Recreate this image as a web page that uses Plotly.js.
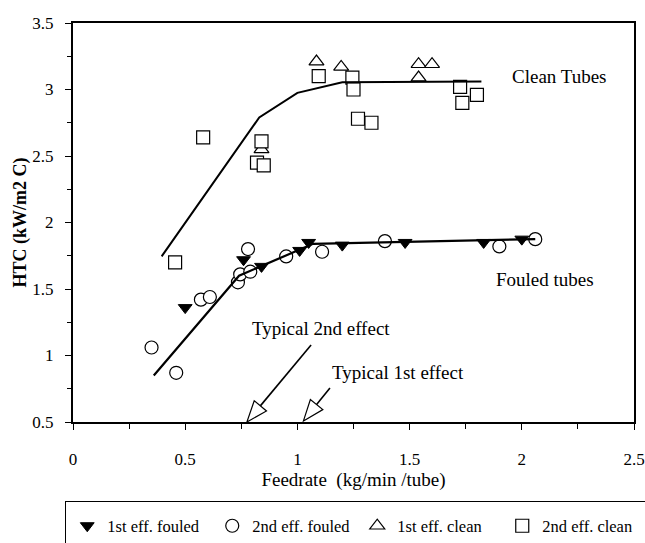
<!DOCTYPE html>
<html><head><meta charset="utf-8">
<script src="https://cdn.plot.ly/plotly-3.0.1.min.js"></script>
<style>html,body{margin:0;padding:0;background:#fff}#chart{width:645px;height:543px}</style>
</head><body><div id="chart"></div>
<script>
// ---- data ----
const fouled1X = [0.50, 0.76, 0.84, 1.01, 1.05, 1.20, 1.48, 1.83, 2.00];
const fouled1Y = [1.36, 1.72, 1.67, 1.79, 1.85, 1.83, 1.85, 1.85, 1.875];

const fouled2X = [0.35, 0.46, 0.57, 0.61, 0.735, 0.745, 0.79, 0.78, 0.95, 1.11, 1.39, 1.90, 2.06];
const fouled2Y = [1.06, 0.87, 1.42, 1.44, 1.55, 1.61, 1.63, 1.80, 1.745, 1.78, 1.86, 1.82, 1.875];

const clean1X = [0.84, 1.085, 1.195, 1.54, 1.60, 1.54];
const clean1Y = [2.55, 3.21, 3.17, 3.19, 3.19, 3.09];

const clean2X = [0.455, 0.58, 0.84, 0.82, 0.85, 1.095, 1.245, 1.25, 1.27, 1.33, 1.725, 1.80, 1.735];
const clean2Y = [1.70, 2.64, 2.61, 2.45, 2.43, 3.10, 3.09, 3.00, 2.78, 2.75, 3.02, 2.96, 2.90];

const cleanFitX = [0.395, 0.83, 1.0, 1.2, 1.82];
const cleanFitY = [1.745, 2.79, 2.975, 3.055, 3.06];

const fouledFitX = [0.36, 0.74, 1.07, 2.06];
const fouledFitY = [0.85, 1.60, 1.84, 1.875];

const seriesNames = ['1st eff. fouled', '2nd eff. fouled', '1st eff. clean', '2nd eff. clean'];

const labelTexts = ['Clean Tubes', 'Fouled tubes', 'Typical 2nd effect', 'Typical 1st effect'];
const labelX = [2.17, 2.105, 1.104, 1.448];
const labelY = [3.096, 1.575, 1.205, 0.87];

// arrows: [tipX, tipY, tailX, tailY]
const arrows = [[0.775, 0.50, 1.061, 1.079], [1.027, 0.508, 1.145, 0.756]];

// ---- layout geometry ----
const W = 645, H = 543;
const M = {l: 73, r: 11, t: 23, b: 121, autoexpand: false};
const xRange = [0, 2.5], yRange = [0.5, 3.5];
const pxX = (W - M.l - M.r) / (xRange[1] - xRange[0]);
const pxY = (H - M.t - M.b) / (yRange[1] - yRange[0]);

const FONT = '"Liberation Serif","Times New Roman",Times,serif';

const traces = [
  {x: fouled1X, y: fouled1Y, name: seriesNames[0], type: 'scatter', mode: 'markers',
   marker: {symbol: 'triangle-down', size: 12, color: '#000', line: {color: '#000', width: 1}}},
  {x: fouled2X, y: fouled2Y, name: seriesNames[1], type: 'scatter', mode: 'markers',
   marker: {symbol: 'circle', size: 13, color: '#fff', line: {color: '#000', width: 1.2}}},
  {x: clean1X, y: clean1Y, name: seriesNames[2], type: 'scatter', mode: 'markers',
   marker: {symbol: 'triangle-up', size: 13, color: '#fff', line: {color: '#000', width: 1.2}}},
  {x: clean2X, y: clean2Y, name: seriesNames[3], type: 'scatter', mode: 'markers',
   marker: {symbol: 'square', size: 13, color: '#fff', line: {color: '#000', width: 1.2}}},
  {x: cleanFitX, y: cleanFitY, type: 'scatter', mode: 'lines', showlegend: false,
   line: {color: '#000', width: 2}, hoverinfo: 'skip'},
  {x: fouledFitX, y: fouledFitY, type: 'scatter', mode: 'lines', showlegend: false,
   line: {color: '#000', width: 2.2}, hoverinfo: 'skip'}
];

// arrow shapes (open triangle head)
const shapes = [];
arrows.forEach(a => {
  const [tx, ty, sx, sy] = a;
  const dx = (sx - tx) * pxX, dy = -(sy - ty) * pxY;
  const L = Math.hypot(dx, dy), ux = dx / L, uy = dy / L;
  const len = 21, half = 8;
  const bx = ux * len, by = uy * len;
  const p1 = [bx - uy * half, by + ux * half], p2 = [bx + uy * half, by - ux * half];
  const toD = p => [tx + p[0] / pxX, ty - p[1] / pxY];
  const b = toD([bx, by]), c1 = toD(p1), c2 = toD(p2);
  shapes.push({type: 'line', xref: 'x', yref: 'y', x0: b[0], y0: b[1], x1: sx, y1: sy,
    line: {color: '#000', width: 1.6}});
  shapes.push({type: 'path', xref: 'x', yref: 'y',
    path: `M ${tx},${ty} L ${c1[0]},${c1[1]} L ${c2[0]},${c2[1]} Z`,
    fillcolor: '#fff', line: {color: '#000', width: 1.2}});
});

const annotations = labelTexts.map((t, i) => ({
  x: labelX[i], y: labelY[i], xref: 'x', yref: 'y', text: t, showarrow: false,
  font: {family: FONT, size: 19, color: '#000'}, xanchor: 'center', yanchor: 'middle'
}));

const axisCommon = {
  showgrid: false, zeroline: false, showline: true, linewidth: 2, linecolor: '#000',
  mirror: true, ticks: 'outside', ticklen: 6, tickwidth: 1, tickcolor: '#000',
  tickfont: {family: FONT, size: 17, color: '#000'}
};

const layout = {
  width: W, height: H, margin: M,
  paper_bgcolor: '#fff', plot_bgcolor: '#fff',
  font: {family: FONT, color: '#000', size: 17},
  xaxis: Object.assign({}, axisCommon, {
    range: xRange, tick0: 0, dtick: 0.5,
    minor: {dtick: 0.25, ticks: 'outside', ticklen: 5, tickcolor: '#000', tickwidth: 1},
    ticklabelstandoff: 15,
    title: {text: 'Feedrate\u00a0 (kg/min /tube)', font: {family: FONT, size: 19}, standoff: 3}
  }),
  yaxis: Object.assign({}, axisCommon, {
    range: yRange, tick0: 0.5, dtick: 0.5,
    minor: {dtick: 0.25, ticks: 'outside', ticklen: 4, tickcolor: '#000', tickwidth: 1},
    ticklabelstandoff: 8,
    title: {text: '<b>HTC (kW/m2 C)</b>', font: {family: FONT, size: 18}, standoff: 1}
  }),
  showlegend: true,
  legend: {
    orientation: 'h', x: (65 - M.l) / (W - M.l - M.r), xanchor: 'left', y: -0.198, yanchor: 'top',
    bordercolor: '#000', borderwidth: 1, bgcolor: '#fff',
    font: {family: FONT, size: 16.5, color: '#000'},
    entrywidth: 100, entrywidthmode: 'pixels', itemwidth: 30,
    title: {text: '\u00a0', side: 'top left', font: {family: FONT, size: 5}}
  },
  shapes: shapes,
  annotations: annotations
};

Plotly.newPlot('chart', traces, layout, {displayModeBar: false, staticPlot: true});
</script>
</body></html>
